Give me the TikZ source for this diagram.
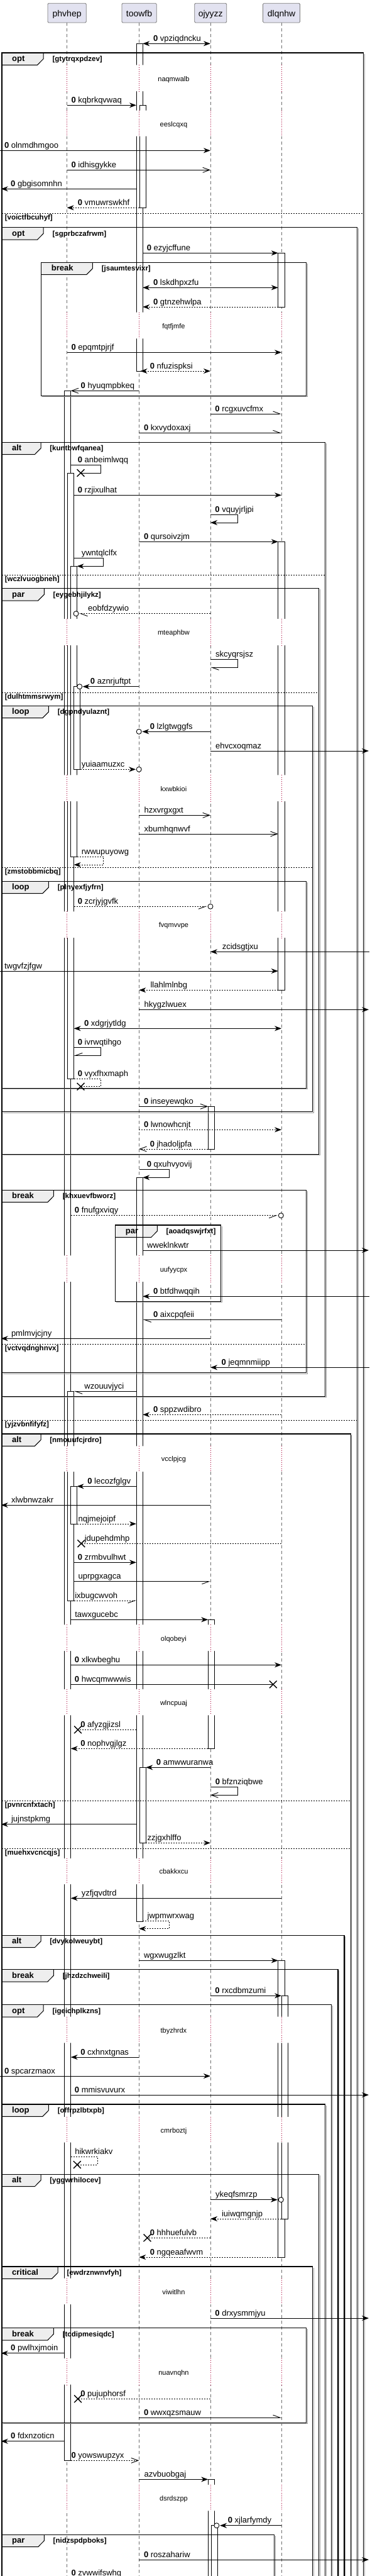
\documentclass[tikz,border=0pt]{standalone}
\usepackage{fontspec}
\newfontfamily\mf{Liberation Sans}
\usetikzlibrary{arrows.meta}
\definecolor{partfill}{HTML}{E2E2F0}
\definecolor{partdraw}{HTML}{7A7A7A}
\definecolor{tabfill}{HTML}{EEEEEE}
\definecolor{delayc}{HTML}{A80036}
\definecolor{lifec}{HTML}{6E6E6E}
\definecolor{shad}{HTML}{9A9A9A}
\newcounter{mc}
\newcommand\zr{\textbf{0}\ }
\tikzset{
  msg/.style={line width=0.9pt,draw=black},
  dsh/.style={dash pattern=on 2pt off 2pt},
  fa/.style={-{Stealth[length=11pt,width=8pt,inset=3.5pt]}},
  ba/.style={{Stealth[length=11pt,width=8pt,inset=3.5pt]}-{Stealth[length=11pt,width=8pt,inset=3.5pt]}},
  oa/.style={-{Straight Barb[length=11pt,width=8pt]}},
  hl/.style={-{Straight Barb[length=11pt,width=8pt,left]}},
  hr/.style={-{Straight Barb[length=11pt,width=8pt,right]}},
  lbl/.style={anchor=base west,inner sep=0pt,font=\mf\fontsize{13}{15}\selectfont},
  kindf/.style={anchor=base west,inner sep=0pt,font=\mf\bfseries\fontsize{13}{15}\selectfont},
  condf/.style={anchor=base west,inner sep=0pt,font=\mf\bfseries\fontsize{11.5}{13}\selectfont},
  dlyf/.style={anchor=base,inner sep=0pt,font=\mf\fontsize{11}{13}\selectfont},
  partt/.style={anchor=base,inner sep=0pt,font=\mf\fontsize{14}{16}\selectfont},
  partb/.style={fill=partfill,draw=partdraw,line width=0.8pt,rounded corners=1.5pt},
  actb/.style={fill=white,draw=black,line width=0.8pt},
  life/.style={draw=lifec,line width=0.7pt,dash pattern=on 5pt off 4pt},
  dlyl/.style={draw=delayc,line width=0.8pt,dash pattern=on 0.8pt off 2.4pt},
}
% message: style, x1, x2, y, label x, label
\newcommand\mm[6]{\stepcounter{mc}%
  \coordinate (s\arabic{mc}) at (#2,#4);\coordinate (e\arabic{mc}) at (#3,#4);%
  \draw[msg,#1] (s\arabic{mc}) -- (e\arabic{mc});%
  \node[lbl] (L\arabic{mc}) at (#5,#4-4) {#6};}
% self message: style, xs, xr, ytop, ybot, xe, label x, label
\newcommand\sm[8]{\stepcounter{mc}%
  \draw[msg,#1] (#2,#4) -- (#3,#4) -- (#3,#5) -- (#6,#5);%
  \node[lbl] (L\arabic{mc}) at (#7,#4-4) {#8};}
\newcommand\xx[2]{\draw[line width=1.4pt] (#1-5.2,#2-5.8) -- (#1+5.2,#2+5.8) (#1-5.2,#2+5.8) -- (#1+5.2,#2-5.8);}
\newcommand\cc[2]{\draw[line width=0.9pt,fill=white] (#1,#2) circle[radius=4pt];}
\newcommand\act[4]{\draw[actb] (#1,#3) rectangle (#2,#4);}
\newcommand\tabf[3]{\fill[tabfill] (#1,#2) -- (#3,#2) -- (#3,#2+9.5) -- (#3-8.5,#2+19.3) -- (#1,#2+19.3) -- cycle;}
\newcommand\frm[7]{%
  \draw[shad,line width=1pt] (#2+1.5,#3+1.6) -- (#2+1.5,#4+1.6) -- (#1+1.5,#4+1.6);%
  \draw[line width=1.2pt] (#1,#3) rectangle (#2,#4);%
  \draw[line width=1pt] (#5,#3) -- (#5,#3+9.5) -- (#5-8.5,#3+19.3) -- (#1,#3+19.3);%
  \stepcounter{mc}\node[kindf] (K\arabic{mc}) at (#1+14,#3+13.5) {#6};%
  \node[condf] (C\arabic{mc}) at (#5+12.5,#3+13.5) {[#7]};}
\newcommand\els[4]{\draw[line width=0.8pt,dash pattern=on 2pt off 2pt] (#1,#3) -- (#2,#3);%
  \stepcounter{mc}\node[condf] (E\arabic{mc}) at (#1+4,#3+10.5) {[#4]};}
\newcommand\dly[4]{%
  \fill[white] (74,#1) rectangle (114,#2) (184,#1) rectangle (207,#2) (288,#1) rectangle (303,#2) (386,#1) rectangle (406,#2);%
  \draw[dlyl] (94,#1) -- (94,#2) (195,#1) -- (195,#2) (295.3,#1) -- (295.3,#2) (395,#1) -- (395,#2);%
  \stepcounter{mc}\node[dlyf] (D\arabic{mc}) at (243.7,#3+3.7) {#4};}
\begin{document}
\begin{tikzpicture}[x=1.1344pt,y=-1pt]
\useasboundingbox (0,0) rectangle (518.34,4096);
\clip (0,0) rectangle (518.34,4096);
\fill[white] (0,0) rectangle (518.34,4096);
% lifelines
\draw[life] (94,36) -- (94,4110);
\draw[life] (195,36) -- (195,4110);
\draw[life] (295.3,36) -- (295.3,4110);
\draw[life] (395,36) -- (395,4110);
% participants
\draw[partb] (67,5.3) rectangle (121,36);
\node[partt] (P1) at (94,26.7) {phvhep};
\draw[partb] (171,5.3) rectangle (219.7,36);
\node[partt] (P2) at (195.3,26.7) {toowfb};
\draw[partb] (273,5.3) rectangle (318,36);
\node[partt] (P3) at (295.5,26.7) {ojyyzz};
\draw[partb] (369,5.3) rectangle (421,36);
\node[partt] (P4) at (395,26.7) {dlqnhw};
% tab fills
\tabf{2.7}{84}{61}
\tabf{2.7}{361.7}{61}
\tabf{58}{417.3}{130}
\tabf{2.7}{703.3}{57.3}
\tabf{2.7}{935.7}{62}
\tabf{2.7}{1122.3}{68.3}
\tabf{2.7}{1401.3}{68.3}
\tabf{2.7}{1892.3}{75.3}
\tabf{162}{1948}{220.7}
\tabf{2.7}{2280}{57.3}
\tabf{2.7}{3077.3}{57.3}
\tabf{2.7}{3131.7}{75.3}
\tabf{2.7}{3187.7}{61}
\tabf{2.7}{3346}{68.3}
\tabf{2.7}{3457.3}{57.3}
\tabf{2.7}{3604}{81.3}
\tabf{2.7}{3701.7}{75.3}
\tabf{2.7}{4030.3}{62}
% activations
\act{191.3}{200.3}{69.3}{590}
\act{195.7}{204.7}{167.3}{330.3}
\act{191.3}{200.3}{1872.3}{3055}
\act{195.7}{204.7}{2810.3}{2930.3}
\act{90.3}{99.3}{621.3}{3912.3}
\act{95}{103.7}{752}{1715}
\act{99.3}{108}{900.3}{1362.3}
\act{103.7}{112.7}{1091.7}{1223.3}
\act{95}{103.7}{2212.3}{2545}
\act{99.3}{108}{2363.3}{2423}
\act{292}{300.7}{1759.3}{1827}
\act{292}{300.7}{2575.3}{2780.3}
\act{292}{300.7}{3942.3}{4110}
\act{296.3}{305}{4015.7}{4110}
\act{390.3}{399.3}{402.3}{488}
\act{390.3}{399.3}{861.3}{1574.3}
\act{390.3}{399.3}{3117.3}{3589}
\act{395}{404}{3173.3}{3528}
% delays
\dly{103.3}{145}{125.3}{naqmwalb}
\dly{175.7}{216.7}{197.3}{eeslcqxq}
\dly{496.7}{538.3}{518.3}{fqtfjmfe}
\dly{984}{1026}{1006}{mteaphbw}
\dly{1232.3}{1274}{1254.3}{kxwbkioi}
\dly{1449.3}{1491}{1471}{fvqmvvpe}
\dly{1996.3}{2038}{2018.3}{uufyycpx}
\dly{2299.3}{2340}{2320}{vcclpjcg}
\dly{2583.3}{2625}{2605.3}{olqobeyi}
\dly{2686}{2727.3}{2707.3}{wlncpuaj}
\dly{2955}{2996}{2976}{cbakkxcu}
\dly{3206.7}{3248.3}{3228.3}{tbyzhrdx}
\dly{3366}{3406.7}{3387.3}{cmrboztj}
\dly{3622.7}{3664}{3644.3}{viwitlhn}
\dly{3750}{3791.7}{3772.3}{nuavnqhn}
\dly{3950.7}{3992.3}{3972.3}{dsrdszpp}
% frames
\frm{2.7}{510}{84}{4110}{61}{opt}{gtytrqxpdzev}
\els{2.7}{510}{339.3}{voictfbcuhyf}
\frm{2.7}{501}{361.7}{4110}{61}{opt}{sgprbczafrwm}
\els{2.7}{501}{2258.3}{yjzvbnfifyfz}
\frm{58}{429.7}{417.3}{629.3}{130}{break}{jsaumtesvixr}
\frm{2.7}{456.3}{703.3}{2220.3}{57.3}{alt}{kuntbwfqanea}
\els{2.7}{456.3}{914.3}{wczlvuogbneh}
\frm{2.7}{447.7}{935.7}{1835.3}{62}{par}{eygebhjilykz}
\els{2.7}{447.7}{1101}{dulhtmmsrwym}
\frm{2.7}{438.7}{1122.3}{1767.7}{68.3}{loop}{dgpndyulaznt}
\els{2.7}{438.7}{1379.3}{zmstobbmicbq}
\frm{2.7}{429.7}{1401.3}{1730.3}{68.3}{loop}{plnyexfjyfrn}
\frm{2.7}{429.7}{1892.3}{2182.7}{75.3}{break}{khxuevfbworz}
\els{2.7}{429.7}{2137.3}{vctvqdnghnvx}
\frm{162}{309.7}{1948}{2069.3}{220.7}{par}{aoadqswjrfxt}
\frm{2.7}{492}{2280}{4110}{57.3}{alt}{nmouufcjrdro}
\els{2.7}{492}{2863.3}{pvnrcnfxtach}
\els{2.7}{492}{2939.3}{muehxvcncqjs}
\frm{2.7}{483}{3077.3}{4110}{57.3}{alt}{dvykolweuybt}
\frm{2.7}{474.3}{3131.7}{4110}{75.3}{break}{jhzdzchweili}
\frm{2.7}{465.3}{3187.7}{4110}{61}{opt}{igeichplkzns}
\frm{2.7}{456.3}{3346}{4110}{68.3}{loop}{offrpzlbtxpb}
\frm{2.7}{447.7}{3457.3}{4110}{57.3}{alt}{yggwrhilocev}
\frm{2.7}{438.7}{3604}{4110}{81.3}{critical}{ewdrznwnvfyh}
\frm{2.7}{429.7}{3701.7}{3852.3}{75.3}{break}{tcdipmesiqdc}
\frm{2.7}{384.7}{4030.3}{4110}{62}{par}{nidzspdpboks}
% messages
\mm{ba}{200.3}{295.3}{69.3}{215}{\zr vpziqdncku}
\mm{fa}{94}{191.3}{167.3}{100}{\zr kqbrkqvwaq}
\mm{fa}{0}{295.3}{239.3}{6}{\zr olnmdhmgoo}
\mm{oa}{94}{295.3}{270.3}{100}{\zr idhisgykke}
\mm{fa}{191.3}{1.5}{300.3}{15}{\zr gbgisomnhn}
\mm{fa,dsh}{195.7}{94}{330.3}{109}{\zr vmuwrswkhf}
\mm{fa}{200.3}{390.3}{402.3}{206}{\zr ezyjcffune}
\mm{ba}{200.3}{390.3}{457.3}{215}{\zr lskdhpxzfu}
\mm{fa,dsh}{390.3}{200.3}{488}{215}{\zr gtnzehwlpa}
\mm{fa}{94}{395}{560.3}{100}{\zr epqmtpjrjf}
\mm{ba,dsh}{197}{295.3}{590}{210.3}{\zr nfuzispksi}
\mm{oa}{195}{99.3}{621.3}{113.3}{\zr hyuqmpbkeq}
\mm{hl}{295.3}{395}{658}{301.7}{\zr rcgxuvcfmx}
\mm{hl}{195}{395}{688.3}{201.7}{\zr kxvydoxaxj}
\sm{-}{99.3}{141}{739.3}{752}{113.3}{109}{\zr anbeimlwqq}\xx{113.3}{752}
\mm{fa}{103.7}{395}{787.3}{109}{\zr rzjixulhat}
\sm{fa}{295.3}{333.7}{818.7}{831}{295.3}{301.7}{\zr vquyjrljpi}
\mm{fa}{195}{390.3}{861.3}{201.7}{\zr qursoivzjm}
\sm{fa}{103.7}{145.3}{887.3}{900.3}{108}{114.3}{ywntqlclfx}
\mm{hl,dsh}{295.3}{111}{975.7}{123.3}{eobfdzywio}\cc{106.7}{975.7}
\sm{hl}{295.3}{333.7}{1048.7}{1061.3}{295.3}{302.3}{skcyqrsjsz}
\mm{fa}{195}{116}{1091.7}{126.7}{\zr aznrjuftpt}\cc{111.7}{1091.7}
\mm{fa}{295.3}{199.5}{1163.3}{210.3}{\zr lzlgtwggfs}\cc{195}{1163.3}
\mm{fa}{295.3}{517.5}{1194}{302.3}{ehvcxoqmaz}
\mm{fa,dsh}{112.7}{190.5}{1223.3}{114.3}{yuiaamuzxc}\cc{195}{1223.3}
\mm{oa}{195}{295.3}{1296.3}{202.3}{hzxvrgxgxt}
\mm{oa}{195}{390.3}{1326}{202.3}{xbumhqnwvf}
\sm{fa,dsh}{108}{145.3}{1362.3}{1375}{103.7}{114.3}{rwwupuyowg}
\mm{hr,dsh}{103.7}{290.5}{1441.3}{109}{\zr zcrjyjgvfk}\cc{295.3}{1441.3}
\mm{fa}{518.4}{295.3}{1513.3}{311.7}{zcidsgtjxu}
\mm{fa}{0}{390.3}{1544}{6}{twgvfzjfgw}
\mm{fa,dsh}{390.3}{195}{1574.3}{211}{llahlmlnbg}
\mm{fa}{195}{517.5}{1605.3}{202.3}{hkygzlwuex}
\mm{ba}{103.7}{395}{1635.3}{118}{\zr xdgrjytldg}
\sm{hr}{103.7}{141}{1665.3}{1678.3}{103.7}{109}{\zr ivrwqtihgo}
\sm{dsh}{103.7}{141}{1715}{1727.7}{113.3}{109}{\zr vyxfhxmaph}\xx{113.3}{1727.7}
\mm{oa}{195}{292}{1759.3}{201.7}{\zr inseyewqko}
\mm{fa,dsh}{195}{395}{1796.3}{201.7}{\zr lwnowhcnjt}
\mm{oa,dsh}{292}{195}{1827}{210.3}{\zr jhadoljpfa}
\sm{fa}{195.3}{237.7}{1859.7}{1872.3}{200.3}{206}{\zr qxuhvyovij}
\mm{hr,dsh}{99.3}{389.5}{1932.7}{104.7}{\zr fnufgxviqy}\cc{394.3}{1932.7}
\mm{fa}{200.3}{517.5}{1988}{206.3}{wweklnkwtr}
\mm{fa}{518.4}{200.3}{2061.3}{215}{\zr btfdhwqqih}
\mm{hl}{395}{200.3}{2098.3}{215}{\zr aixcpqfeii}
\mm{fa}{295.3}{1.5}{2128.3}{15.7}{pmlmvjcjny}
\mm{fa}{518.4}{295.3}{2174.3}{310.7}{\zr jeqmnmiipp}
\mm{hl}{191.3}{103.7}{2212.3}{118.3}{wzouuvjyci}
\mm{fa,dsh}{395}{200.3}{2249.3}{215}{\zr sppzwdibro}
\mm{fa}{191.3}{108}{2363.3}{122.7}{\zr lecozfglgv}
\mm{fa}{295.3}{1.5}{2393.3}{15.7}{xlwbnwzakr}
\mm{fa,dsh}{108}{191.3}{2423}{109.7}{nqjmejoipf}
\mm{dsh}{395}{114}{2454.3}{118.7}{jdupehdmhp}\xx{114}{2454.3}
\mm{fa}{103.7}{191.3}{2484.3}{109}{\zr zrmbvulhwt}
\mm{hr}{103.7}{295.3}{2514.7}{109.7}{uprpgxagca}
\mm{hr,dsh}{103.7}{191.3}{2545}{105}{ixbugcwvoh}
\mm{fa}{99.3}{292}{2575.3}{105}{tawxgucebc}
\mm{fa}{99.3}{395}{2647.3}{104.7}{\zr xlkwbeghu}
\mm{}{99.3}{383.3}{2678.3}{104.7}{\zr hwcqmwwwis}\xx{383.3}{2678.3}
\mm{dsh}{191.3}{109.3}{2750.3}{113}{\zr afyzgjizsl}\xx{109.3}{2750.3}
\mm{fa,dsh}{292}{99.3}{2780.3}{113}{\zr nophvgjlgz}
\mm{fa}{295.3}{204.7}{2810.3}{219.3}{\zr amwwuranwa}
\sm{oa}{295.3}{333.7}{2841.7}{2854.3}{295.3}{302}{\zr bfznziqbwe}
\mm{fa}{191.3}{1.5}{2900.7}{15.7}{jujnstpkmg}
\mm{fa,dsh}{204.7}{295.3}{2930.3}{206.7}{zzjgxhlffo}
\mm{fa}{395}{99.3}{3018.3}{114.3}{yzfjqvdtrd}
\sm{fa,dsh}{200.3}{237.7}{3054.3}{3066.7}{195}{206.7}{jwpmwrxwag}
\mm{fa}{195}{390.3}{3117.3}{201.7}{wgxwugzlkt}
\mm{fa}{295.3}{395}{3173.3}{301.7}{\zr rxcdbmzumi}
\mm{fa}{195}{99.3}{3271}{113}{\zr cxhnxtgnas}
\mm{fa}{0}{295.3}{3301}{6}{\zr spcarzmaox}
\mm{fa}{99.3}{517.5}{3331}{104.7}{\zr mmisvuvurx}
\sm{dsh}{99.3}{136.7}{3429.3}{3442}{108.3}{105}{hikwrkiakv}\xx{108.3}{3442}
\mm{fa}{295.3}{389.5}{3497.7}{302.3}{ykeqfsmrzp}\cc{394.3}{3497.7}
\mm{fa,dsh}{395}{295.3}{3528}{311}{iuiwqmgnjp}
\mm{dsh}{295.3}{206.7}{3558.3}{210.3}{\zr hhhuefulvb}\xx{206.7}{3558.3}
\mm{fa,dsh}{390.3}{195}{3589}{210.3}{\zr ngqeaafwvm}
\mm{fa}{295.3}{517.5}{3686}{301.7}{\zr drxysmmjyu}
\mm{fa}{90.3}{1.5}{3741.7}{15}{\zr pwlhxjmoin}
\mm{dsh}{295.3}{109.3}{3814.3}{113}{\zr pujuphorsf}\xx{109.3}{3814.3}
\mm{hl}{195}{395}{3844}{201.7}{\zr wwxqzsmauw}
\mm{fa}{90.3}{1.5}{3881.7}{15}{\zr fdxnzoticn}
\mm{oa,dsh}{99.3}{195}{3912.3}{100}{\zr yowswupzyx}
\mm{fa}{195}{292}{3942.3}{202.3}{azvbuobgaj}
\mm{fa}{395}{308.5}{4015.7}{319.7}{\zr xjlarfymdy}\cc{304}{4015.7}
\mm{fa}{195}{517.5}{4070}{201.7}{\zr roszahariw}
\node[lbl] (Lz) at (100,4095) {\zr zvwwifswhg};
\end{tikzpicture}
\end{document}
